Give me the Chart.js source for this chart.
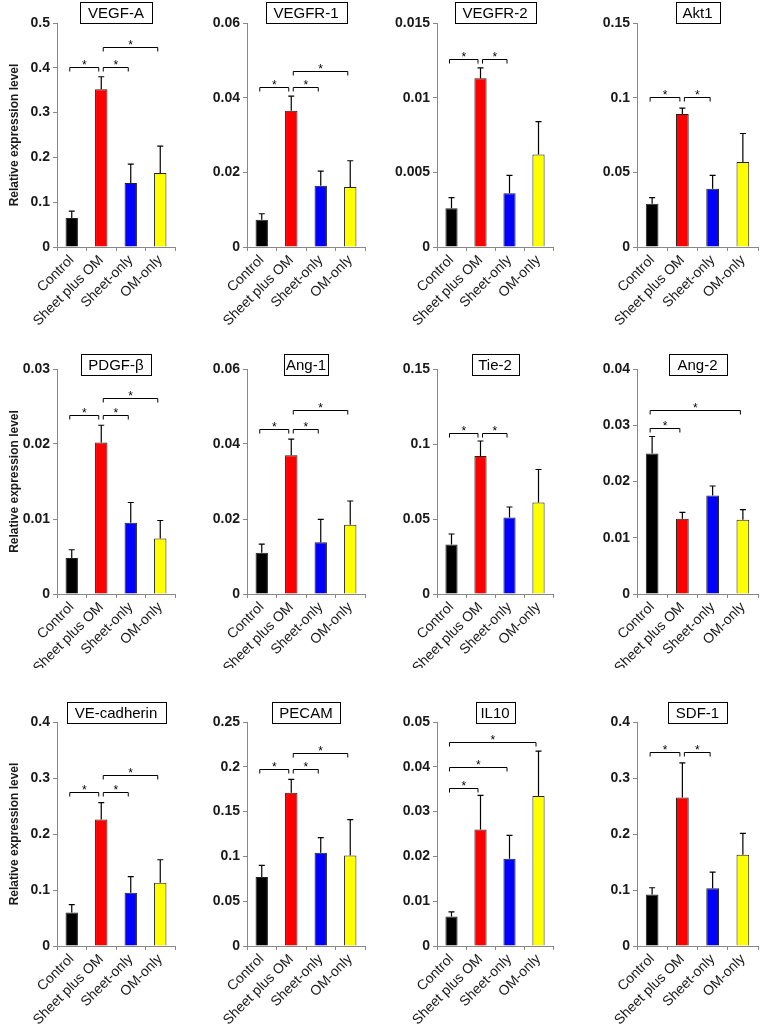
<!DOCTYPE html>
<html>
<head>
<meta charset="utf-8">
<script src="https://cdn.jsdelivr.net/npm/chart.js@4.4.1/dist/chart.umd.min.js"></script>
<style>
  body { margin: 0; background: #fff; width: 762px; height: 1026px; position: relative; overflow: hidden; }
  canvas { position: absolute; }
</style>
</head>
<body>
<script>
// groups and colours
const groups = ['Control', 'Sheet plus OM', 'Sheet-only', 'OM-only'];
const groupColors = ['#000000', '#ff0000', '#0000ff', '#ffff00'];

const genes = ['VEGF-A', 'VEGFR-1', 'VEGFR-2', 'Akt1',
               'PDGF-β', 'Ang-1', 'Tie-2', 'Ang-2',
               'VE-cadherin', 'PECAM', 'IL10', 'SDF-1'];

// y axis range and tick step per gene
const yMax  = [0.5, 0.06, 0.015, 0.15, 0.03, 0.06, 0.15, 0.04, 0.4, 0.25, 0.05, 0.4];
const yStep = [0.1, 0.02, 0.005, 0.05, 0.01, 0.02, 0.05, 0.01, 0.1, 0.05, 0.01, 0.1];

// mean relative expression (Control, Sheet plus OM, Sheet-only, OM-only)
const means = [
  [0.065, 0.352, 0.143, 0.165],
  [0.0073, 0.0365, 0.0164, 0.0161],
  [0.0026, 0.0113, 0.0036, 0.0062],
  [0.029, 0.089, 0.039, 0.057],
  [0.0048, 0.0202, 0.0095, 0.0074],
  [0.011, 0.037, 0.0138, 0.0185],
  [0.033, 0.092, 0.051, 0.061],
  [0.025, 0.0134, 0.0175, 0.0132],
  [0.06, 0.226, 0.095, 0.113],
  [0.077, 0.171, 0.104, 0.101],
  [0.0066, 0.026, 0.0195, 0.0335],
  [0.092, 0.265, 0.103, 0.163]
];

// upper error bar length
const errors = [
  [0.015, 0.028, 0.042, 0.060],
  [0.0016, 0.0039, 0.0039, 0.0070],
  [0.0007, 0.0007, 0.0012, 0.0022],
  [0.004, 0.004, 0.009, 0.019],
  [0.0011, 0.0023, 0.0027, 0.0024],
  [0.0023, 0.0043, 0.0061, 0.0063],
  [0.007, 0.010, 0.007, 0.022],
  [0.003, 0.0011, 0.0017, 0.0018],
  [0.014, 0.030, 0.029, 0.041],
  [0.013, 0.015, 0.017, 0.040],
  [0.0010, 0.0076, 0.0052, 0.0100],
  [0.012, 0.062, 0.029, 0.038]
];

// significance brackets: [from group, to group, height in axis units]
const brackets = [
  [[0, 1, 0.402], [1, 2, 0.402], [1, 3, 0.446]],
  [[0, 1, 0.0429], [1, 2, 0.0429], [1, 3, 0.0471]],
  [[0, 1, 0.0126], [1, 2, 0.0126]],
  [[0, 1, 0.1004], [1, 2, 0.1004]],
  [[0, 1, 0.0239], [1, 2, 0.0239], [1, 3, 0.0261]],
  [[0, 1, 0.044], [1, 2, 0.044], [1, 3, 0.049]],
  [[0, 1, 0.107], [1, 2, 0.107]],
  [[0, 1, 0.0295], [0, 3, 0.0327]],
  [[0, 1, 0.275], [1, 2, 0.275], [1, 3, 0.305]],
  [[0, 1, 0.1975], [1, 2, 0.1975], [1, 3, 0.215]],
  [[0, 1, 0.0353], [0, 2, 0.040], [0, 3, 0.0455]],
  [[0, 1, 0.346], [1, 2, 0.346]]
];

const yTitle = 'Relative expression level';

// layout of the 4 x 3 grid
const colLeft = [0, 190, 380, 580];
const plotWidth = [118, 118, 116, 121];
const padRight = [15, 15, 17, 4];
const rowTop = [0, 346, 699];
const rowHeight = [346, 322, 327];
const plotHeight = [224, 225, 224];
const axisWidth = 57;
const topPad = 23;
const boxWidth = [72, 81, 81, 44, 70, 44, 47, 58, 99, 68, 39, 59];
const boxDrop = [0, 6, 1];

Chart.defaults.font.family = 'Arial, "Liberation Sans", sans-serif';
Chart.defaults.color = '#1a1a1a';

const annotPlugin = {
  id: 'annot',
  afterDatasetsDraw(chart, args, opts) {
    const ctx = chart.ctx;
    const x = chart.scales.x, y = chart.scales.y;
    const bars = chart.getDatasetMeta(0).data;
    ctx.save();
    ctx.strokeStyle = '#000';
    ctx.lineWidth = 1.2;
    // error bars
    opts.err.forEach((e, k) => {
      const bx = bars[k].x;
      const y0 = bars[k].y;
      const y1 = y.getPixelForValue(opts.mean[k] + e);
      ctx.beginPath();
      ctx.moveTo(bx, y0);
      ctx.lineTo(bx, y1);
      ctx.moveTo(bx - 3, y1);
      ctx.lineTo(bx + 3, y1);
      ctx.stroke();
    });
    // brackets with asterisks above
    ctx.lineWidth = 1;
    ctx.fillStyle = '#000';
    ctx.font = '12px Arial, "Liberation Sans", sans-serif';
    ctx.textAlign = 'center';
    ctx.textBaseline = 'alphabetic';
    opts.brackets.forEach(([a, b, v]) => {
      const x1 = x.getPixelForValue(a) + (a === 0 ? -2 : 2);
      const x2 = x.getPixelForValue(b) - 2.5;
      const yy = Math.round(y.getPixelForValue(v)) + 0.5;
      ctx.beginPath();
      ctx.moveTo(x1, yy + 4);
      ctx.lineTo(x1, yy);
      ctx.lineTo(x2, yy);
      ctx.lineTo(x2, yy + 4);
      ctx.stroke();
      ctx.fillText('*', (x1 + x2) / 2, yy + 1);
    });
    ctx.restore();
  },
  afterDraw(chart, args, opts) {
    const ctx = chart.ctx;
    const area = chart.chartArea;
    const cx = (area.left + area.right) / 2;
    const bottom = area.top + opts.drop;
    const h = 21;
    ctx.save();
    ctx.fillStyle = '#fff';
    ctx.fillRect(cx - opts.boxW / 2, bottom - h, opts.boxW, h);
    ctx.strokeStyle = '#000';
    ctx.lineWidth = 1;
    ctx.strokeRect(Math.round(cx - opts.boxW / 2) + 0.5, bottom - h + 0.5, Math.round(opts.boxW), h);
    ctx.fillStyle = '#000';
    ctx.font = '15px Arial, "Liberation Sans", sans-serif';
    ctx.textAlign = 'center';
    ctx.textBaseline = 'middle';
    ctx.fillText(opts.label, cx, bottom - h / 2 + 1);
    ctx.restore();
  }
};

genes.forEach((gene, i) => {
  const col = i % 4;
  const row = Math.floor(i / 4);
  const w = axisWidth + plotWidth[col] + padRight[col];
  const h = rowHeight[row];
  const xHeight = h - topPad - plotHeight[row];

  const cv = document.createElement('canvas');
  cv.width = w;
  cv.height = h;
  cv.style.width = w + 'px';
  cv.style.height = h + 'px';
  cv.style.left = colLeft[col] + 'px';
  cv.style.top = rowTop[row] + 'px';
  document.body.appendChild(cv);

  new Chart(cv.getContext('2d'), {
    type: 'bar',
    data: {
      labels: groups,
      datasets: [{
        data: means[i],
        backgroundColor: groupColors,
        borderColor: '#222',
        borderWidth: 1,
        borderSkipped: 'bottom',
        barPercentage: 0.42,
        categoryPercentage: 1
      }]
    },
    options: {
      responsive: false,
      animation: false,
      devicePixelRatio: 1,
      layout: { padding: { top: topPad, left: 0, right: padRight[col], bottom: 0 } },
      plugins: {
        legend: { display: false },
        tooltip: { enabled: false },
        annot: {
          mean: means[i],
          err: errors[i],
          brackets: brackets[i],
          label: gene,
          boxW: boxWidth[i],
          drop: boxDrop[row]
        }
      },
      scales: {
        x: {
          grid: { display: true, offset: true, drawOnChartArea: false, drawTicks: true, tickLength: 4, color: '#888' },
          border: { display: true, color: '#888', width: 1 },
          ticks: {
            autoSkip: false,
            minRotation: 45,
            maxRotation: 45,
            padding: 1,
            color: '#1a1a1a',
            font: { size: 14 }
          },
          afterFit: (s) => { s.height = xHeight; s.paddingLeft = 0; s.paddingRight = 0; }
        },
        y: {
          min: 0,
          max: yMax[i],
          grid: { display: true, drawOnChartArea: false, drawTicks: true, tickLength: 4, color: '#888' },
          border: { display: true, color: '#888', width: 1 },
          ticks: {
            stepSize: yStep[i],
            padding: 3,
            color: '#1a1a1a',
            font: { size: 14, weight: 'bold' },
            callback: (v) => String(+v.toFixed(4))
          },
          title: {
            display: col === 0,
            text: yTitle,
            color: '#1a1a1a',
            font: { size: 12, weight: 'bold' },
            padding: { top: 7, bottom: 0 }
          },
          afterFit: (s) => { s.width = axisWidth; s.paddingTop = 0; s.paddingBottom = 0; }
        }
      }
    },
    plugins: [annotPlugin]
  });
});
</script>
</body>
</html>
